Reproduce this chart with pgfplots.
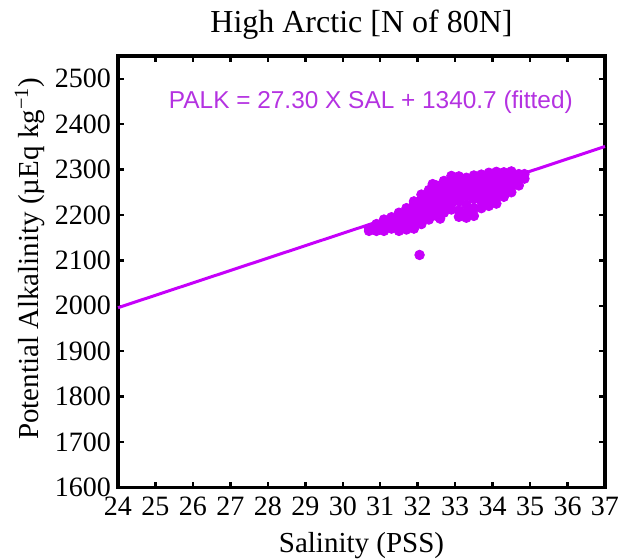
\documentclass[border=0pt]{standalone}
\usepackage{fontspec}
\setmainfont{Liberation Serif}
\newfontfamily\arialfont{Liberation Sans}
\usepackage{pgfplots}
\pgfplotsset{compat=1.18}
\definecolor{palk}{RGB}{198,0,250}
\definecolor{palktext}{RGB}{180,50,225}

\begin{document}
\begin{tikzpicture}
\useasboundingbox (-59pt,-35.75pt) rectangle (252.5pt,243.75pt);
\begin{axis}[
    at={(0,0)}, anchor=south west,
    scale only axis,
    width=243.5pt, height=215.75pt,
    xmin=24, xmax=37, ymin=1600, ymax=2550,
    xtick={24,25,...,37},
    ytick={1600,1700,...,2500},
    tick align=inside,
    major tick length=3pt,
    tick style={black, line width=1.2pt},
    axis line style={black, line width=1.6pt},
    /pgf/number format/assume math mode=true,
    /pgf/number format/1000 sep={},
    tick label style={font=\fontsize{14}{16}\selectfont},
    xticklabel style={yshift=-1.2pt},
    label style={font=\fontsize{14.5}{17}\selectfont},
    xlabel={Salinity (PSS)},
    xlabel style={at={(axis description cs:0.5,0)}, anchor=base, yshift=-32.25pt},
    ylabel={Potential Alkalinity (µEq kg\textsuperscript{−1})},
    ylabel style={at={(axis description cs:-0.181,0.53)}, anchor=center},
    clip=false,
]
% fitted line
\addplot[palk, line width=1.5pt] coordinates {(24,1995.9) (37,2350.8)};
% observations
\addplot[only marks, mark=*, mark size=2.4pt, draw=palk, fill=palk] coordinates {
  (30.7,2165) (30.7,2170)
  (30.9,2165) (30.9,2175) (30.9,2180)
  (31.1,2165) (31.1,2175) (31.1,2185) (31.1,2190)
  (31.3,2170) (31.3,2180) (31.3,2190) (31.3,2195)
  (31.5,2165) (31.5,2175) (31.5,2190) (31.5,2200) (31.5,2205)
  (31.7,2168) (31.7,2180) (31.7,2195) (31.7,2210) (31.7,2215)
  (31.9,2170) (31.9,2185) (31.9,2200) (31.9,2215) (31.9,2225) (31.9,2230)
  (32.1,2180) (32.1,2195) (32.1,2210) (32.1,2225) (32.1,2235) (32.1,2245)
  (32.3,2190) (32.3,2200) (32.3,2215) (32.3,2230) (32.3,2245) (32.3,2255)
  (32.4,2268)
  (32.5,2198) (32.5,2210) (32.5,2225) (32.5,2240) (32.5,2255) (32.5,2265)
  (32.6,2192)
  (32.7,2205) (32.7,2220) (32.7,2235) (32.7,2250) (32.7,2265) (32.7,2275)
  (32.9,2212) (32.9,2225) (32.9,2240) (32.9,2255) (32.9,2270) (32.9,2280) (32.9,2286)
  (33.1,2196) (33.1,2210) (33.1,2230) (33.1,2245) (33.1,2260) (33.1,2275) (33.1,2285)
  (33.3,2194) (33.3,2205) (33.3,2222) (33.3,2240) (33.3,2255) (33.3,2270) (33.3,2282)
  (33.5,2198) (33.5,2215) (33.5,2235) (33.5,2250) (33.5,2265) (33.5,2278) (33.5,2287)
  (33.7,2215) (33.7,2230) (33.7,2245) (33.7,2260) (33.7,2275) (33.7,2289)
  (33.9,2220) (33.9,2235) (33.9,2250) (33.9,2265) (33.9,2280) (33.9,2293)
  (34.1,2225) (34.1,2240) (34.1,2255) (34.1,2270) (34.1,2285) (34.1,2295)
  (34.3,2240) (34.3,2255) (34.3,2270) (34.3,2285) (34.3,2294)
  (34.5,2250) (34.5,2262) (34.5,2275) (34.5,2288) (34.5,2296)
  (34.7,2265) (34.7,2278) (34.7,2290)
  (34.85,2280) (34.85,2290)
  (32.05,2112)
};
\node[palktext, font=\arialfont\fontsize{12.2}{14}\selectfont, anchor=center]
  at (axis cs:30.75,2448) {PALK = 27.30 X SAL + 1340.7 (fitted)};
\node[font=\fontsize{16}{18}\selectfont, anchor=base]
  at (rel axis cs:0.5,1) [yshift=12pt] {High Arctic [N of 80N]};
\end{axis}
\end{tikzpicture}
\end{document}
